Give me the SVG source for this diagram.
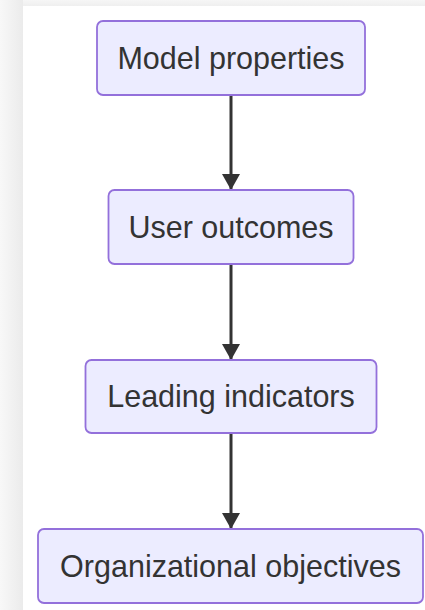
<svg xmlns="http://www.w3.org/2000/svg" width="425" height="610" viewBox="0 0 425 610">
  <defs>
    <linearGradient id="shadowL" x1="0" y1="0" x2="1" y2="0">
      <stop offset="0" stop-color="#f8f8f8"/>
      <stop offset="1" stop-color="#ebebeb"/>
    </linearGradient>
    <linearGradient id="shadowT" x1="0" y1="0" x2="0" y2="1">
      <stop offset="0" stop-color="#f6f6f6"/>
      <stop offset="1" stop-color="#efefef"/>
    </linearGradient>
    <marker id="arrow" viewBox="0 0 16 18" refX="16" refY="9" markerWidth="16" markerHeight="18" markerUnits="userSpaceOnUse" orient="auto">
      <path d="M0,0 L16,9 L0,18 Z" fill="#333333"/>
    </marker>
    <style>
      .node rect { fill: #ECECFF; stroke: #9370DB; stroke-width: 1.8; }
      .node text { font-family: "Liberation Sans", Arial, sans-serif; font-size: 30.5px; fill: #333333; text-anchor: middle; }
      .edge { stroke: #333333; stroke-width: 3; fill: none; }
    </style>
  </defs>
  <rect x="0" y="0" width="425" height="610" fill="#f5f5f5"/>
  <rect x="0" y="0" width="23" height="610" fill="url(#shadowL)"/>
  <rect x="23" y="0" width="402" height="6" fill="url(#shadowT)"/>
  <rect x="23" y="6" width="402" height="604" fill="#ffffff"/>

  <g id="connectors">
    <line class="edge" x1="231" y1="95" x2="231" y2="190" marker-end="url(#arrow)"/>
    <line class="edge" x1="231" y1="264" x2="231" y2="360" marker-end="url(#arrow)"/>
    <line class="edge" x1="231" y1="433" x2="231" y2="529" marker-end="url(#arrow)"/>
  </g>

  <g id="model-properties" class="node">
    <rect x="97" y="21" width="268" height="74" rx="6" ry="6"/>
    <text x="231" y="68.8">Model properties</text>
  </g>
  <g id="user-outcomes" class="node">
    <rect x="108.5" y="190" width="245" height="74" rx="6" ry="6"/>
    <text x="231" y="237.8">User outcomes</text>
  </g>
  <g id="leading-indicators" class="node">
    <rect x="85.5" y="360" width="291" height="73" rx="6" ry="6"/>
    <text x="231" y="407.3">Leading indicators</text>
  </g>
  <g id="organizational-objectives" class="node">
    <rect x="38" y="529" width="385" height="74" rx="6" ry="6"/>
    <text x="230.5" y="576.8">Organizational objectives</text>
  </g>
</svg>
